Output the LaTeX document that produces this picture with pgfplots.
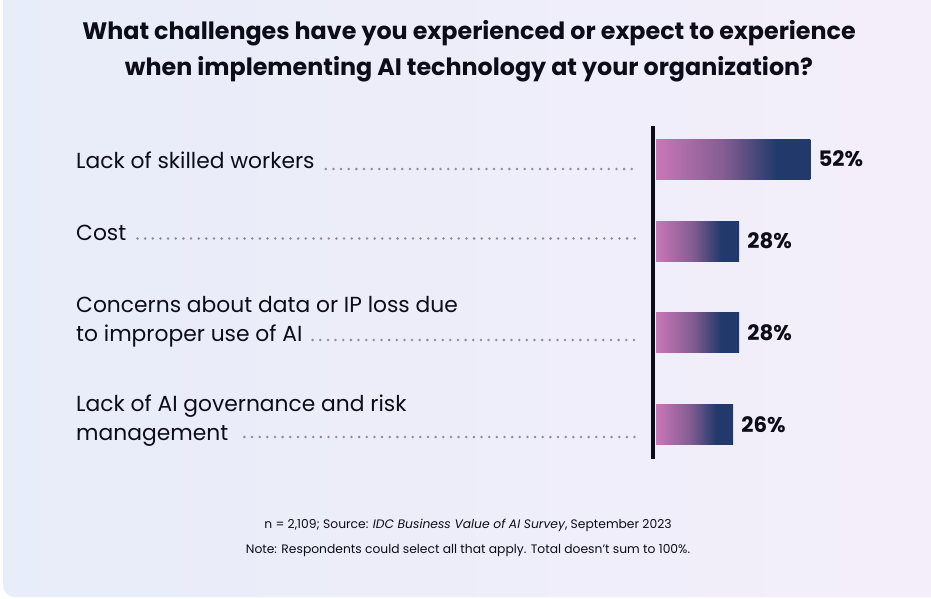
\documentclass[border=0pt]{standalone}
\usepackage{pgfplots}
\pgfplotsset{compat=1.18}
\usepackage{fontspec}
\setmainfont{Poppins}
\definecolor{bgA}{HTML}{E7EDF9}
\definecolor{bgB}{HTML}{F4EEFA}
\definecolor{barpink}{HTML}{C977B8}
\definecolor{barmid}{HTML}{835D92}
\definecolor{barnavy}{HTML}{213A6B}
\definecolor{dotgray}{HTML}{8E8E98}
\definecolor{txt}{HTML}{0D0D1A}
\pgfdeclarehorizontalshading{barshade}{100bp}{color(0bp)=(barpink); color(25bp)=(barpink); color(47bp)=(barmid); color(64bp)=(barnavy); color(100bp)=(barnavy)}
\tikzset{dots/.style={dotgray, line width=2.8pt, line cap=round, dash pattern=on 0pt off 7.65pt}}
\begin{document}
\begin{tikzpicture}
\useasboundingbox (0,0) rectangle (931pt,-599pt);
\fill[white] (0,0) rectangle (931pt,-599pt);
\shade[rounded corners=12pt, left color=bgA, right color=bgB] (3pt,15pt) rectangle (945pt,-597pt);
% title
\node[anchor=base, text=txt, font=\fontsize{23.8}{28}\selectfont\bfseries] at (469pt,-40pt) {What challenges have you experienced or expect to experience};
\node[anchor=base, text=txt, font=\fontsize{23.8}{28}\selectfont\bfseries] at (469pt,-76pt) {when implementing AI technology at your organization?};
% bars
\begin{axis}[at={(656pt,0pt)}, anchor=north west, scale only axis,
  width=267.3pt, height=599pt, xmin=0, xmax=90, ymin=0, ymax=599,
  y dir=reverse, axis lines=none, clip=false, xbar, bar width=40,
  /pgf/number format/assume math mode=true,
  nodes near coords={\pgfmathprintnumber{\pgfplotspointmeta}\%},
  nodes near coords align=horizontal,
  every node near coord/.append style={anchor=west, font=\fontsize{21.3}{24}\selectfont\bfseries, text=txt, inner sep=0pt, xshift=8pt}]
\addplot[draw=none, shading=barshade, bar shift=0pt] coordinates {(52,159)};
\addplot[draw=none, shading=barshade, bar shift=0pt] coordinates {(28,241)};
\addplot[draw=none, shading=barshade, bar shift=0pt] coordinates {(28,332.5)};
\addplot[draw=none, shading=barshade, bar shift=0pt] coordinates {(26,424.5)};
\end{axis}
\draw[line width=4.5pt, txt] (653.2pt,-126pt) -- (653.2pt,-459pt);
% labels
\begin{scope}[every node/.style={anchor=base west, text=txt, inner sep=0pt, font=\fontsize{21.8}{24}\selectfont}]
\node (l1) at (76pt,-168pt) {Lack of skilled workers};
\node (l2) at (76pt,-240pt) {Cost};
\node at (76pt,-312pt) {Concerns about data or IP loss due};
\node (l3) at (76pt,-341.5pt) {to improper use of AI};
\node at (76pt,-411.5pt) {Lack of AI governance and risk};
\node (l4) at (76pt,-440.5pt) {management};
\end{scope}
\path (l1.base east) ++(11pt,0) coordinate (s1);
\path (l2.base east) ++(11pt,0) coordinate (s2);
\path (l3.base east) ++(10pt,0) coordinate (s3);
\path (l4.base east) ++(16pt,0) coordinate (s4);
\draw[dots] (s1 |- 0,-169pt) -- (639pt,-169pt);
\draw[dots] (s2 |- 0,-238.5pt) -- (639pt,-238.5pt);
\draw[dots] (s3 |- 0,-340pt) -- (639pt,-340pt);
\draw[dots] (s4 |- 0,-437pt) -- (639pt,-437pt);
% footer
\node[anchor=base, text=txt, font=\fontsize{12.3}{14}\selectfont] at (468pt,-528.5pt) {n = 2,109; Source: \textit{IDC Business Value of AI Survey}, September 2023};
\node[anchor=base, text=txt, font=\fontsize{12.3}{14}\selectfont] at (468pt,-553pt) {Note: Respondents could select all that apply. Total doesn't sum to 100\%.};
\end{tikzpicture}
\end{document}
